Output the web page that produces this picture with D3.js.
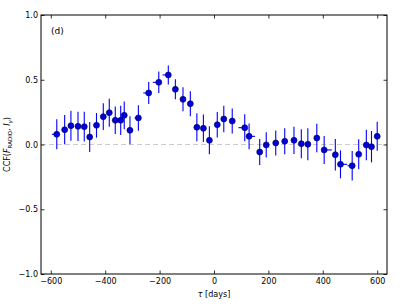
<!DOCTYPE html>
<html>
<head>
<meta charset="utf-8">
<script src="https://cdn.jsdelivr.net/npm/d3@7"></script>
<style>
  body { margin: 0; background: #fff; }
  svg { display: block; font-family: "DejaVu Sans", sans-serif; }
</style>
</head>
<body>
<svg id="chart"></svg>
<script>
// lag (days), CCF value, vertical error, horizontal error (left / right, days)
const lags = [-578, -549, -526, -500, -477, -457, -432, -407, -385, -363, -343, -330, -309, -278,
  -240, -203, -168, -142, -114, -87, -63, -39, -17, 12, 36, 67, 113, 129,
  168, 192, 227, 260, 294, 321, 345, 378, 405, 446, 465, 508, 532, 560, 579, 600];
const ccf = [0.079, 0.114, 0.145, 0.14, 0.138, 0.058, 0.148, 0.215, 0.246, 0.187, 0.187, 0.225, 0.11, 0.205,
  0.398, 0.48, 0.537, 0.426, 0.349, 0.315, 0.133, 0.125, 0.032, 0.153, 0.197, 0.181, 0.13, 0.063,
  -0.058, -0.003, 0.012, 0.025, 0.032, 0.006, 0.002, 0.05, -0.042, -0.079, -0.153, -0.164, -0.076, -0.004, -0.017, 0.063];
const errY = [0.116, 0.113, 0.116, 0.113, 0.115, 0.116, 0.095, 0.103, 0.108, 0.106, 0.113, 0.108, 0.108, 0.098,
  0.085, 0.083, 0.073, 0.077, 0.093, 0.097, 0.108, 0.106, 0.108, 0.098, 0.103, 0.097, 0.104, 0.1,
  0.1, 0.097, 0.097, 0.1, 0.106, 0.112, 0.124, 0.11, 0.108, 0.122, 0.108, 0.114, 0.116, 0.118, 0.121, 0.112];
const errXlo = [18, 10, 6, 6, 6, 6, 6, 6, 6, 6, 6, 6, 6, 14,
  20, 22, 21, 6, 6, 6, 6, 6, 6, 6, 6, 6, 23, 6,
  6, 10, 6, 6, 6, 6, 6, 6, 6, 6, 6, 17, 6, 6, 6, 6];
const errXhi = [6, 6, 6, 6, 6, 6, 6, 6, 6, 6, 6, 6, 6, 6,
  6, 6, 6, 6, 6, 6, 6, 6, 6, 6, 6, 6, 6, 22,
  6, 6, 10, 10, 6, 6, 6, 10, 28, 6, 25, 6, 6, 6, 6, 10];
const xTicks = [-600, -400, -200, 0, 200, 400, 600];
const yTicks = [-1.0, -0.5, 0.0, 0.5, 1.0];

const width = 407, height = 305;
const margin = {top: 15, right: 20, bottom: 31, left: 41};

const svg = d3.select('#chart').attr('width', width).attr('height', height);

const x = d3.scaleLinear().domain([-636, 636]).range([margin.left, width - margin.right]);
const y = d3.scaleLinear().domain([-1, 1]).range([height - margin.bottom, margin.top]);

const fmtY = d => d3.format('.1f')(d).replace('-', '\u2212');
const fmtX = d => String(d).replace('-', '\u2212');

// zero line
svg.append('line')
  .attr('x1', x.range()[0]).attr('x2', x.range()[1])
  .attr('y1', y(0)).attr('y2', y(0))
  .attr('stroke', '#cccccc').attr('stroke-width', 1)
  .attr('stroke-dasharray', '5,3');

const pts = lags.map((l, i) => ({l, v: ccf[i], e: errY[i], lo: errXlo[i], hi: errXhi[i]}));

const g = svg.append('g');
g.selectAll('line.ey').data(pts).enter().append('line')
  .attr('class', 'ey')
  .attr('x1', d => x(d.l)).attr('x2', d => x(d.l))
  .attr('y1', d => y(d.v - d.e)).attr('y2', d => y(d.v + d.e))
  .attr('stroke', '#0000ff').attr('stroke-width', 1.1);
g.selectAll('line.ex').data(pts).enter().append('line')
  .attr('class', 'ex')
  .attr('x1', d => x(d.l - d.lo)).attr('x2', d => x(d.l + d.hi))
  .attr('y1', d => y(d.v)).attr('y2', d => y(d.v))
  .attr('stroke', '#0000ff').attr('stroke-width', 1.1);
g.selectAll('circle').data(pts).enter().append('circle')
  .attr('cx', d => x(d.l)).attr('cy', d => y(d.v))
  .attr('r', 3)
  .attr('fill', '#0000dd').attr('stroke', '#000040').attr('stroke-width', 0.6);

// axes, ticks pointing inward on all four sides
function styleAxis(sel) {
  sel.select('.domain').remove();
  sel.selectAll('line').attr('stroke', '#000').attr('stroke-width', 0.8);
  sel.selectAll('text').attr('font-size', 8).attr('fill', '#000')
    .attr('font-family', '"DejaVu Sans", sans-serif');
}
svg.append('g').attr('transform', `translate(0,${y(-1)})`)
  .call(d3.axisBottom(x).tickValues(xTicks).tickSizeInner(-3.5).tickSizeOuter(0).tickPadding(4).tickFormat(fmtX))
  .call(styleAxis);
svg.append('g').attr('transform', `translate(0,${y(1)})`)
  .call(d3.axisTop(x).tickValues(xTicks).tickSizeInner(-3.5).tickSizeOuter(0).tickFormat(''))
  .call(styleAxis);
svg.append('g').attr('transform', `translate(${x.range()[0]},0)`)
  .call(d3.axisLeft(y).tickValues(yTicks).tickSizeInner(-3.5).tickSizeOuter(0).tickPadding(3).tickFormat(fmtY))
  .call(styleAxis);
svg.append('g').attr('transform', `translate(${x.range()[1]},0)`)
  .call(d3.axisRight(y).tickValues(yTicks).tickSizeInner(-3.5).tickSizeOuter(0).tickFormat(''))
  .call(styleAxis);

// frame
svg.append('rect')
  .attr('x', x.range()[0]).attr('y', y(1))
  .attr('width', x.range()[1] - x.range()[0]).attr('height', y(-1) - y(1))
  .attr('fill', 'none').attr('stroke', '#000').attr('stroke-width', 1);

// panel tag
svg.append('text').attr('x', 51).attr('y', 34)
  .attr('font-size', 9).text('(d)');

// x label
const xl = svg.append('text')
  .attr('x', (x.range()[0] + x.range()[1]) / 2).attr('y', 297)
  .attr('text-anchor', 'middle').attr('font-size', 8);
xl.append('tspan').attr('font-style', 'italic').text('\u03c4');
xl.append('tspan').text(' [days]');

// y label
const yl = svg.append('text')
  .attr('transform', `translate(10,${(y(1) + y(-1)) / 2}) rotate(-90)`)
  .attr('text-anchor', 'middle').attr('font-size', 8);
yl.append('tspan').text('CCF(');
yl.append('tspan').attr('font-style', 'italic').text('F');
yl.append('tspan').attr('font-size', 5.5).attr('dy', 2).text('RADIO');
yl.append('tspan').attr('dy', -2).text(', ');
yl.append('tspan').attr('font-style', 'italic').text('I');
yl.append('tspan').attr('font-size', 5.5).attr('font-style', 'italic').attr('dy', 2).text('\u03b3');
yl.append('tspan').attr('dy', -2).text(')');
</script>
</body>
</html>
